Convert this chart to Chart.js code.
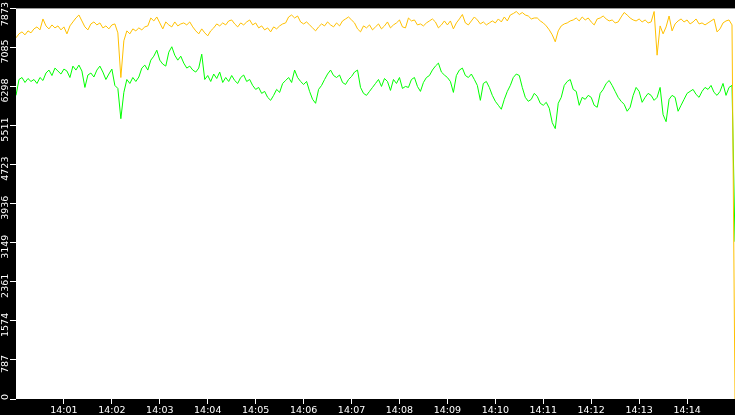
<!DOCTYPE html>
<html>
<head>
<meta charset="utf-8">
<script src="https://cdn.jsdelivr.net/npm/chart.js@4.4.1/dist/chart.umd.min.js"></script>
<style>
  html, body { margin: 0; padding: 0; background: #000; }
  canvas { display: block; }
</style>
</head>
<body>
<canvas id="graph" width="735" height="415"></canvas>
<script>
// one sample every 3.75 s, from 14:00:00 to 14:15:00
const stepSec = 3.75;
const xTickLabels = ["14:01", "14:02", "14:03", "14:04", "14:05", "14:06", "14:07",
  "14:08", "14:09", "14:10", "14:11", "14:12", "14:13", "14:14"];
const yTickLabels = ["0", "787", "1574", "2361", "3149", "3936", "4723", "5511", "6298", "7085", "7873"];
const yTickStep = 787.3;

// orange serie (top)
const orange = [
  7280, 7360, 7400, 7340, 7420, 7380, 7460, 7500, 7440, 7660, 7520, 7460, 7540, 7480, 7520, 7440,
  7500, 7360, 7520, 7600, 7680, 7740, 7620, 7500, 7440, 7560, 7600, 7540, 7580, 7480, 7520, 7460,
  7540, 7560, 7380, 6480, 7220, 7420, 7360, 7460, 7420, 7480, 7440, 7500, 7520, 7680, 7620, 7700,
  7580, 7460, 7600, 7540, 7500, 7600, 7520, 7560, 7580, 7540, 7600, 7500, 7420, 7360, 7460, 7380,
  7320, 7420, 7480, 7560, 7520, 7580, 7540, 7620, 7640, 7560, 7500, 7580, 7540, 7600, 7640, 7540,
  7580, 7480, 7520, 7440, 7480, 7400, 7500, 7460, 7520, 7560, 7580, 7700, 7740, 7680, 7720, 7600,
  7560, 7600, 7540, 7480, 7420, 7500, 7560, 7520, 7600, 7540, 7500, 7580, 7520, 7620, 7660, 7700,
  7640, 7580, 7460, 7400, 7520, 7480, 7540, 7440, 7500, 7560, 7460, 7520, 7600, 7480, 7540, 7580,
  7640, 7500, 7480, 7680, 7620, 7640, 7540, 7560, 7520, 7580, 7620, 7660, 7600, 7480, 7540, 7620,
  7540, 7620, 7460, 7580, 7660, 7750, 7580, 7540, 7620, 7700, 7640, 7560, 7600, 7540, 7580, 7620,
  7580, 7660, 7600, 7700, 7620, 7740, 7770, 7810, 7750, 7790, 7740, 7720, 7660, 7680, 7680, 7620,
  7580, 7520, 7440, 7340, 7200, 7420, 7520, 7560, 7580, 7620, 7640, 7680, 7620, 7700, 7640, 7680,
  7600, 7540, 7660, 7680, 7720, 7660, 7620, 7640, 7580, 7600, 7700, 7790, 7740, 7680, 7640, 7620,
  7660, 7600, 7640, 7580, 7600, 7810, 6930, 7520, 7360, 7500, 7720, 7420, 7560, 7620, 7660, 7600,
  7640, 7560, 7600, 7660, 7560, 7580, 7540, 7580, 7620, 7660, 7400, 7460, 7580, 7620, 7640, 7540,
  0
];

// green serie (bottom)
const green = [
  6120, 6440, 6480, 6380, 6460, 6400, 6440, 6360, 6480, 6420, 6570, 6630, 6520, 6670, 6610, 6550,
  6650, 6610, 6480, 6710, 6630, 6730, 6610, 6280, 6530, 6570, 6490, 6630, 6710, 6590, 6440, 6550,
  6650, 6320, 6260, 5650, 6180, 6440, 6360, 6480, 6400, 6490, 6670, 6730, 6630, 6830, 6910, 7030,
  6830, 6750, 6710, 6990, 7100, 6930, 6830, 6910, 6770, 6670, 6710, 6630, 6590, 6670, 6950, 6440,
  6520, 6400, 6550, 6460, 6590, 6380, 6480, 6400, 6520, 6420, 6360, 6480, 6530, 6400, 6440, 6320,
  6240, 6280, 6160, 6200, 6080, 6020, 6120, 6240, 6180, 6360, 6420, 6480, 6380, 6630, 6480, 6400,
  6340, 6400, 6200, 6040, 5960, 6240, 6320, 6440, 6550, 6630, 6520, 6480, 6530, 6380, 6340, 6440,
  6500, 6590, 6630, 6280, 6160, 6120, 6200, 6280, 6360, 6440, 6300, 6460, 6400, 6220, 6440, 6360,
  6480, 6260, 6300, 6280, 6440, 6480, 6300, 6200, 6380, 6480, 6520, 6630, 6710, 6770, 6590, 6530,
  6480, 6400, 6180, 6520, 6630, 6670, 6520, 6480, 6550, 6440, 6320, 6020, 6360, 6400, 6280, 6120,
  6000, 5920, 5840, 6040, 6200, 6320, 6480, 6550, 6520, 6280, 6080, 6000, 6040, 6160, 6100, 5960,
  5920, 5980, 5860, 5570, 5450, 5960, 6080, 6320, 6400, 6440, 6240, 6200, 5920, 6080, 6040, 6120,
  6080, 5920, 5880, 6160, 6240, 6360, 6420, 6320, 6200, 6080, 6000, 5940, 5800, 5880, 6120, 6280,
  6200, 5980, 6080, 6160, 6120, 6020, 6080, 6280, 5730, 5590, 6040, 6120, 6080, 5800, 5920, 6040,
  6160, 6200, 6240, 6140, 6080, 6200, 6280, 6240, 6320, 6180, 6120, 6200, 6360, 6120, 6280, 6320,
  3170
];

const toPoints = (arr) => arr.map((v, i) => ({ x: i * stepSec, y: v }));

// fond noir + zone blanche, et labels verticaux de l'axe Y
const fondPlugin = {
  id: "fond",
  beforeDraw(chart) {
    const c = chart.ctx;
    const a = chart.chartArea;
    c.save();
    c.fillStyle = "#000";
    c.fillRect(0, 0, chart.width, chart.height);
    c.fillStyle = "#fff";
    c.fillRect(a.left, a.top, a.right - a.left, a.bottom - a.top);
    c.restore();
  },
  afterDraw(chart) {
    const c = chart.ctx;
    const sy = chart.scales.y;
    c.save();
    c.font = "9.5px 'DejaVu Sans'";
    c.fillStyle = "#fff";
    c.textAlign = "center";
    c.textBaseline = "middle";
    sy.ticks.forEach((t, i) => {
      const txt = yTickLabels[i];
      const w = c.measureText(txt).width;
      let cy = sy.getPixelForValue(t.value) + 4;
      // garder le texte dans la zone
      cy = Math.max(cy, 2 + w / 2);
      cy = Math.min(cy, chart.chartArea.bottom + 1 - w / 2);
      c.save();
      c.translate(5.5, cy);
      c.rotate(-Math.PI / 2);
      c.fillText(txt, 0, 0);
      c.restore();
    });
    c.restore();
  }
};

const ctx = document.getElementById("graph").getContext("2d");
const graph = new Chart(ctx, {
  type: "line",
  data: {
    datasets: [
      {
        label: "orange",
        data: toPoints(orange),
        borderColor: "#ffc000",
        borderWidth: 1,
        pointRadius: 0,
        tension: 0,
        fill: false
      },
      {
        label: "green",
        data: toPoints(green),
        borderColor: "#00ff00",
        borderWidth: 1,
        pointRadius: 0,
        tension: 0,
        fill: false
      }
    ]
  },
  options: {
    responsive: false,
    animation: false,
    devicePixelRatio: 1,
    layout: { padding: 0 },
    plugins: {
      legend: { display: false },
      tooltip: { enabled: false },
      title: { display: false }
    },
    scales: {
      x: {
        type: "linear",
        min: 0,
        max: (orange.length - 1) * stepSec,
        afterFit: (s) => { s.height = 16; },
        grid: {
          drawOnChartArea: false,
          drawTicks: true,
          tickLength: 5,
          color: "#fff"
        },
        border: { display: false },
        ticks: {
          stepSize: 60,
          autoSkip: false,
          maxRotation: 0,
          padding: 1,
          color: "#fff",
          font: { family: "'DejaVu Sans'", size: 9.5 },
          callback: (v) => {
            const lbl = xTickLabels[v / 60 - 1];
            return lbl === undefined ? null : lbl;
          }
        }
      },
      y: {
        min: 0,
        max: yTickStep * (yTickLabels.length - 1),
        afterFit: (s) => { s.width = 16; },
        afterBuildTicks: (s) => {
          s.ticks = yTickLabels.map((l, i) => ({ value: i * yTickStep }));
        },
        grid: {
          drawOnChartArea: false,
          drawTicks: true,
          tickLength: 6,
          color: "#fff"
        },
        border: { display: false },
        ticks: {
          color: "rgba(0,0,0,0)",
          font: { size: 9 }
        }
      }
    }
  },
  plugins: [fondPlugin]
});
</script>
</body>
</html>
